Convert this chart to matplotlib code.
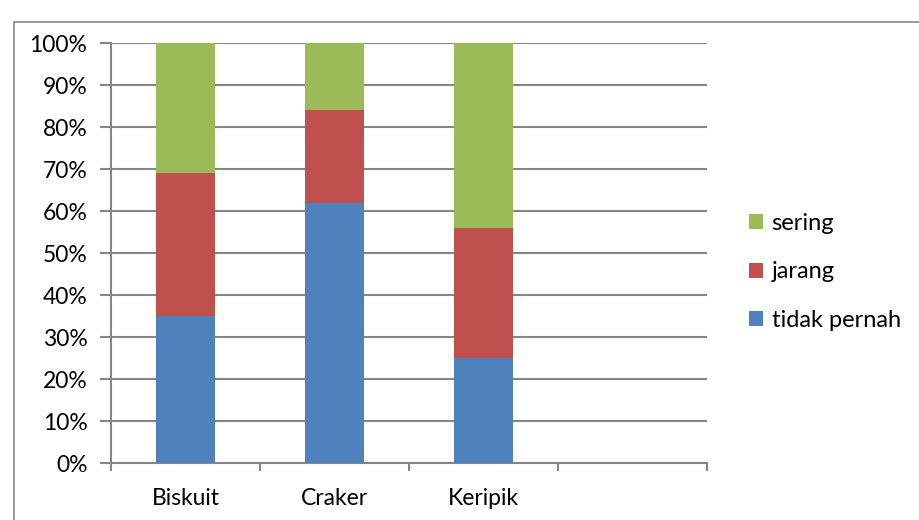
import numpy as np
import matplotlib.pyplot as plt
from matplotlib.patches import Rectangle

# snack categories and share of respondents per answer (%)
categories = ["Biskuit", "Craker", "Keripik"]
tidak_pernah = [35, 62, 25]
jarang = [34, 22, 31]
sering = [31, 16, 44]
series_names = ["tidak pernah", "jarang", "sering"]
y_ticks = [0, 10, 20, 30, 40, 50, 60, 70, 80, 90, 100]

colors = ["#4F81BD", "#C0504D", "#9BBB59"]
grid_color = "#868686"

plt.rcParams['font.family'] = ['Lato', 'DejaVu Sans']

fig = plt.figure(figsize=(9.2, 5.2), dpi=100)
ax = fig.add_axes([111/920, 1 - 463/520, (707 - 111)/920, (463 - 43)/520])

# outer chart border
fig.patches.append(Rectangle((14/920, -0.2), 2, (520 - 22)/520 + 0.2,
                             transform=fig.transFigure, fill=False,
                             edgecolor=grid_color, linewidth=1.2))

x = np.arange(len(categories))
bottom = np.zeros(len(categories))
bars = []
for vals, c, name in zip([tidak_pernah, jarang, sering], colors, series_names):
    b = ax.bar(x, vals, 0.4, bottom=bottom, color=c, label=name, zorder=3)
    bars.append(b)
    bottom += np.array(vals)

ax.set_xlim(-0.5, 3.5)
ax.set_ylim(0, 100)
ax.set_yticks(y_ticks)
ax.set_yticklabels([f"{v}%" for v in y_ticks], fontsize=16.5)
ax.yaxis.grid(True, color=grid_color, linewidth=1.5, zorder=0)
ax.set_axisbelow(True)

ax.set_xticks(x)
ax.set_xticklabels(categories, fontsize=16.5)
ax.set_xticks(np.arange(-0.5, 4, 1), minor=True)
ax.tick_params(axis='x', which='major', length=0, pad=18)
ax.tick_params(axis='x', which='minor', length=6, width=1.5, color=grid_color, direction='out')
ax.tick_params(axis='y', length=8, width=1.5, color=grid_color, pad=9)

for s in ['top', 'right']:
    ax.spines[s].set_visible(False)
for s in ['left', 'bottom']:
    ax.spines[s].set_color(grid_color)
    ax.spines[s].set_linewidth(1.5)

handles = [bars[2], bars[1], bars[0]]
labels = [series_names[2], series_names[1], series_names[0]]
fig.legend(handles, labels, loc='upper left', bbox_to_anchor=(728/920, 1 - 192/520),
           frameon=False, fontsize=17, handlelength=0.6, handleheight=0.6,
           handletextpad=0.35, labelspacing=1.15)

fig.savefig("out.png", dpi=100, facecolor="white")
